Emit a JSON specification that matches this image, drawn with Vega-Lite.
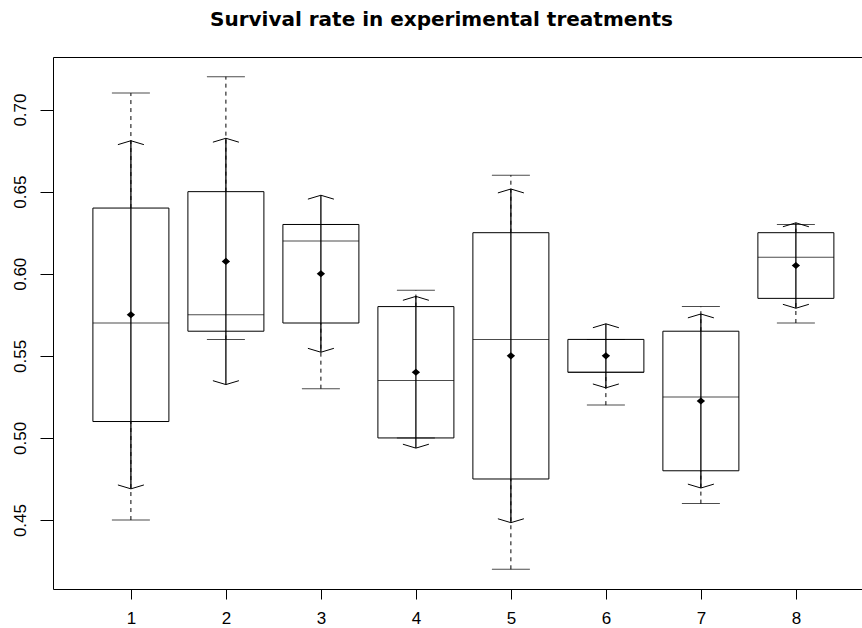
{
  "$schema": "https://vega.github.io/schema/vega-lite/v6.json",
  "width": 809,
  "height": 532,
  "autosize": {"type": "none"},
  "padding": {"left": 53, "top": 57, "right": 0, "bottom": 39},
  "background": "white",
  "view": {"stroke": null},
  "config": {
    "font": "Liberation Sans",
    "axis": {"labelFont": "Liberation Sans", "labelColor": "black", "tickColor": "black", "domainColor": "black", "grid": false, "title": null}
  },
  "title": {
    "text": "Survival rate in experimental treatments",
    "font": "DejaVu Sans",
    "fontSize": 20,
    "fontWeight": "bold",
    "color": "black",
    "anchor": "middle",
    "frame": "group",
    "baseline": "alphabetic",
    "offset": 11,
    "dx": -16
  },
  "data": {
    "values": [
      {"group": 1, "min": 0.45, "q1": 0.51, "med": 0.57, "q3": 0.64, "max": 0.71, "mean": 0.575, "lo": 0.469, "hi": 0.681},
      {"group": 2, "min": 0.56, "q1": 0.565, "med": 0.575, "q3": 0.65, "max": 0.72, "mean": 0.6075, "lo": 0.5325, "hi": 0.6825},
      {"group": 3, "min": 0.53, "q1": 0.57, "med": 0.62, "q3": 0.63, "max": 0.63, "mean": 0.6, "lo": 0.5522, "hi": 0.6478},
      {"group": 4, "min": 0.5, "q1": 0.5, "med": 0.535, "q3": 0.58, "max": 0.59, "mean": 0.54, "lo": 0.4938, "hi": 0.5862},
      {"group": 5, "min": 0.42, "q1": 0.475, "med": 0.56, "q3": 0.625, "max": 0.66, "mean": 0.55, "lo": 0.4484, "hi": 0.6516},
      {"group": 6, "min": 0.52, "q1": 0.54, "med": 0.54, "q3": 0.56, "max": 0.56, "mean": 0.55, "lo": 0.5305, "hi": 0.5695},
      {"group": 7, "min": 0.46, "q1": 0.48, "med": 0.525, "q3": 0.565, "max": 0.58, "mean": 0.5225, "lo": 0.4695, "hi": 0.5755},
      {"group": 8, "min": 0.57, "q1": 0.585, "med": 0.61, "q3": 0.625, "max": 0.63, "mean": 0.605, "lo": 0.579, "hi": 0.631}
    ]
  },
  "resolve": {"axis": {"x": "independent"}},
  "layer": [
    {
      "mark": {"type": "rule", "color": "black", "strokeWidth": 1, "strokeDash": [4, 4]},
      "encoding": {
        "x": {"field": "group", "type": "quantitative", "scale": {"domain": [0.18, 8.696], "nice": false, "zero": false, "padding": 0},
              "axis": {"orient": "top", "labels": false, "ticks": false, "domain": true, "domainWidth": 1}},
        "y": {"field": "q3", "type": "quantitative", "scale": {"domain": [0.408, 0.732], "nice": false, "zero": false, "padding": 0},
              "axis": {"values": [0.45, 0.5, 0.55, 0.6, 0.65, 0.7], "format": ".2f", "labelAngle": -90, "labelAlign": "center", "labelBaseline": "bottom", "labelFontSize": 17, "labelPadding": 11, "tickSize": 13, "domainWidth": 1}},
        "y2": {"field": "max"}
      }
    },
    {
      "mark": {"type": "rule", "color": "black", "strokeWidth": 1, "strokeDash": [4, 4]},
      "encoding": {
        "x": {"field": "group", "type": "quantitative", "axis": null},
        "y": {"field": "min", "type": "quantitative"},
        "y2": {"field": "q1"}
      }
    },
    {
      "mark": {"type": "bar", "size": 76, "fill": "white", "stroke": "black", "strokeWidth": 1},
      "encoding": {
        "x": {"field": "group", "type": "quantitative",
              "axis": {"orient": "bottom", "values": [1, 2, 3, 4, 5, 6, 7, 8], "format": "d", "labelFontSize": 17, "labelPadding": 11, "tickSize": 10, "domainWidth": 1}},
        "y": {"field": "q1", "type": "quantitative"},
        "y2": {"field": "q3"}
      }
    },
    {
      "mark": {"type": "tick", "orient": "horizontal", "size": 76, "thickness": 1, "color": "black"},
      "encoding": {
        "x": {"field": "group", "type": "quantitative", "axis": null},
        "y": {"field": "med", "type": "quantitative"}
      }
    },
    {
      "mark": {"type": "tick", "orient": "horizontal", "size": 38, "thickness": 1, "color": "black"},
      "encoding": {
        "x": {"field": "group", "type": "quantitative", "axis": null},
        "y": {"field": "max", "type": "quantitative"}
      }
    },
    {
      "mark": {"type": "tick", "orient": "horizontal", "size": 38, "thickness": 1, "color": "black"},
      "encoding": {
        "x": {"field": "group", "type": "quantitative", "axis": null},
        "y": {"field": "min", "type": "quantitative"}
      }
    },
    {
      "mark": {"type": "rule", "color": "black", "strokeWidth": 1.3},
      "encoding": {
        "x": {"field": "group", "type": "quantitative", "axis": null},
        "y": {"field": "lo", "type": "quantitative"},
        "y2": {"field": "hi"}
      }
    },
    {
      "mark": {"type": "point", "shape": "M -1 0.3 L 0 0 L 1 0.3", "size": 676, "filled": false, "stroke": "black", "strokeWidth": 1, "opacity": 1},
      "encoding": {
        "x": {"field": "group", "type": "quantitative", "axis": null},
        "y": {"field": "hi", "type": "quantitative"}
      }
    },
    {
      "mark": {"type": "point", "shape": "M -1 -0.3 L 0 0 L 1 -0.3", "size": 676, "filled": false, "stroke": "black", "strokeWidth": 1, "opacity": 1},
      "encoding": {
        "x": {"field": "group", "type": "quantitative", "axis": null},
        "y": {"field": "lo", "type": "quantitative"}
      }
    },
    {
      "mark": {"type": "point", "shape": "M -1 0 L 0 -0.85 L 1 0 L 0 0.85 Z", "size": 70, "filled": true, "color": "black", "opacity": 1},
      "encoding": {
        "x": {"field": "group", "type": "quantitative", "axis": null},
        "y": {"field": "mean", "type": "quantitative"}
      }
    }
  ]
}
